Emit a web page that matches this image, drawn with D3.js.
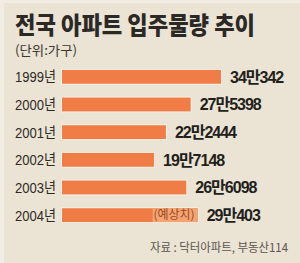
<!DOCTYPE html>
<html>
<head>
<meta charset="utf-8">
<script src="https://d3js.org/d3.v7.min.js"></script>
<style>
  body { margin: 0; padding: 0; }
  svg { display: block; }
</style>
</head>
<body>
<svg width="300" height="263"></svg>
<script>
var years = ["1999", "2000", "2001", "2002", "2003", "2004"];
var values = [340342, 275398, 222444, 197148, 266098, 290403];
var estimated = [false, false, false, false, false, true];

var title = "전국 아파트 입주물량 추이";
var unit = "(단위:가구)";
var source = "자료 : 닥터아파트, 부동산114";

var svg = d3.select("svg"),
    width = +svg.attr("width"),
    height = +svg.attr("height");

var kfont = "'Liberation Sans', 'Noto Sans CJK KR', sans-serif";

// background with a faint lighter frame
svg.append("rect").attr("width", width).attr("height", height).attr("fill", "#f2ede3");
svg.append("rect").attr("x", 4).attr("y", 3).attr("width", width - 4).attr("height", height - 3)
    .attr("fill", "#ebe3d3");

svg.append("text")
    .attr("x", 15).attr("y", 34)
    .attr("font-family", "'Noto Sans CJK KR', sans-serif")
    .attr("font-weight", 900)
    .attr("font-size", 24)
    .attr("fill", "#2b2926")
    .attr("textLength", 240)
    .attr("lengthAdjust", "spacingAndGlyphs")
    .text(title);

svg.append("text")
    .attr("x", 15).attr("y", 55)
    .attr("font-family", "'Noto Sans CJK KR', sans-serif")
    .attr("font-size", 13)
    .attr("fill", "#3a3733")
    .attr("textLength", 62)
    .attr("lengthAdjust", "spacingAndGlyphs")
    .text(unit);

var x = d3.scaleLinear()
    .domain([0, d3.max(values)])
    .range([62, 221]);

var y = d3.scaleBand()
    .domain(years)
    .range([63, 229])
    .paddingInner(0.5)
    .paddingOuter(0.25);

function fmt(v) {
  return Math.floor(v / 10000) + "만" + (v % 10000);
}

var row = svg.append("g").selectAll("g")
    .data(years)
    .enter().append("g");

row.append("rect")
    .attr("x", x(0) - 1)
    .attr("y", function(d) { return y(d) - 1; })
    .attr("width", function(d, i) { return x(values[i]) - x(0) + 2; })
    .attr("height", y.bandwidth() + 2)
    .attr("fill", "#f7f1e7");

row.append("rect")
    .attr("x", x(0))
    .attr("y", function(d) { return y(d); })
    .attr("width", function(d, i) { return x(values[i]) - x(0); })
    .attr("height", y.bandwidth())
    .attr("fill", "#ef7d45");

row.append("text")
    .attr("x", 56)
    .attr("y", function(d) { return y(d) + y.bandwidth() / 2; })
    .attr("dy", "0.36em")
    .attr("text-anchor", "end")
    .attr("font-family", kfont)
    .attr("font-size", 15)
    .attr("fill", "#2b2926")
    .attr("textLength", 41)
    .attr("lengthAdjust", "spacingAndGlyphs")
    .text(function(d) { return d + "년"; });

row.append("text")
    .attr("x", function(d, i) { return x(values[i]) + 9; })
    .attr("y", function(d) { return y(d) + y.bandwidth() / 2; })
    .attr("dy", "0.37em")
    .attr("font-family", kfont)
    .attr("font-weight", "bold")
    .attr("font-size", 16)
    .attr("letter-spacing", -1)
    .attr("fill", "#221f1c")
    .text(function(d, i) { return fmt(values[i]); });

// estimate marker inside the last bar
var est = row.filter(function(d, i) { return estimated[i]; });
est.append("rect")
    .attr("x", function(d) { return x(values[years.indexOf(d)]) - 45; })
    .attr("y", function(d) { return y(d); })
    .attr("width", 45)
    .attr("height", y.bandwidth())
    .attr("fill", "#f4a473");
est.append("text")
    .attr("x", function(d) { return x(values[years.indexOf(d)]) - 3; })
    .attr("y", function(d) { return y(d) + y.bandwidth() / 2; })
    .attr("dy", "0.36em")
    .attr("text-anchor", "end")
    .attr("font-family", "'Noto Sans CJK KR', sans-serif")
    .attr("font-size", 12)
    .attr("fill", "#9a4a22")
    .text("(예상치)");

svg.append("text")
    .attr("x", 288).attr("y", 252)
    .attr("text-anchor", "end")
    .attr("font-family", "'Noto Sans CJK KR', sans-serif")
    .attr("font-size", 12)
    .attr("fill", "#5a5550")
    .attr("textLength", 138)
    .attr("lengthAdjust", "spacingAndGlyphs")
    .text(source);
</script>
</body>
</html>
